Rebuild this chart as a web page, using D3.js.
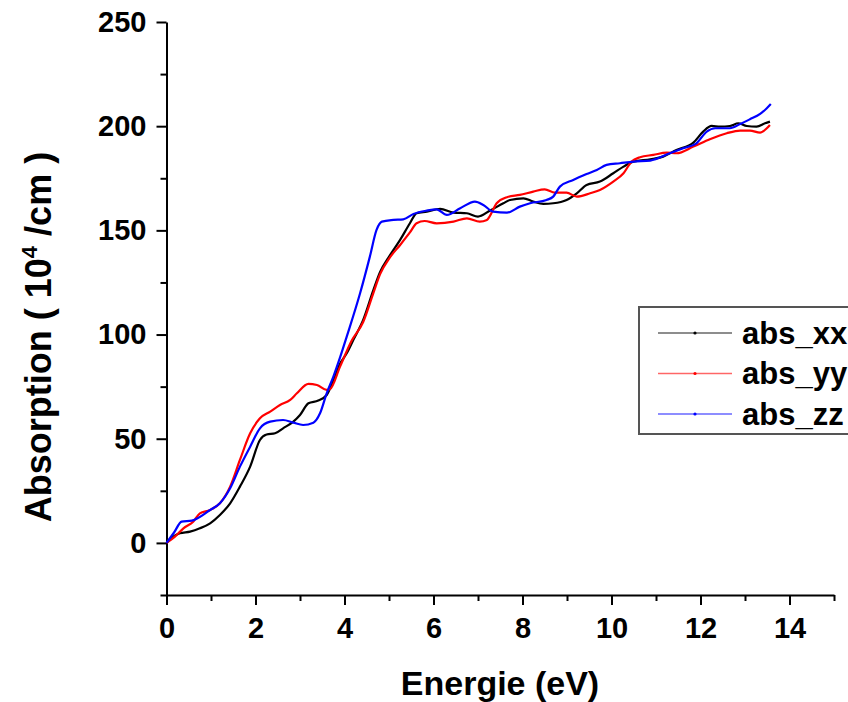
<!DOCTYPE html>
<html>
<head>
<meta charset="utf-8">
<script src="https://cdn.jsdelivr.net/npm/d3@7"></script>
<style>
  html, body { margin: 0; padding: 0; background: #fff; }
  svg { display: block; font-family: "Liberation Sans", Arial, sans-serif; font-weight: bold; }
</style>
</head>
<body>
<svg id="chart" width="848" height="702"></svg>
<script>
// Absorption spectra along the three polarisation directions
const energyXX = [0, 0.15, 0.3, 0.53, 0.75, 0.98, 1.2, 1.43, 1.65, 1.88, 2.1, 2.25, 2.44, 2.62, 2.85, 3.0, 3.19, 3.41, 3.6, 3.75, 3.9, 4.05, 4.2, 4.42, 4.65, 4.8, 5.02, 5.25, 5.47, 5.62, 5.85, 6.15, 6.45, 6.75, 7.0, 7.27, 7.57, 7.72, 8.02, 8.24, 8.47, 8.69, 8.99, 9.22, 9.44, 9.74, 10.04, 10.27, 10.49, 10.87, 11.16, 11.46, 11.84, 12.06, 12.25, 12.44, 12.66, 12.85, 13.04, 13.26, 13.45, 13.56];
const absXX    = [0, 3, 4.6, 5.4, 7, 9.4, 13.4, 19, 27, 36.6, 49.4, 52, 52.6, 55, 58.2, 61.4, 67, 68.3, 71, 78, 86, 91, 97.5, 107, 121.4, 130, 138, 145.4, 153.4, 158.2, 159, 160.3, 158.5, 158.2, 156.6, 159.5, 163, 164.6, 165.4, 163.8, 162.7, 163, 164.6, 167.8, 171.8, 173.4, 177.4, 180.6, 183, 184.1, 185.4, 188.6, 192.1, 197.4, 200.1, 199.8, 200.1, 201.4, 200.1, 199.8, 201.4, 202.2];

const energyYY = [0, 0.19, 0.38, 0.6, 0.75, 0.98, 1.2, 1.43, 1.65, 1.88, 2.1, 2.33, 2.55, 2.78, 2.93, 3.19, 3.38, 3.6, 3.67, 3.9, 4.16, 4.42, 4.65, 4.8, 5.02, 5.25, 5.47, 5.62, 5.8, 6.07, 6.45, 6.75, 7.04, 7.2, 7.42, 7.65, 7.94, 8.24, 8.5, 8.73, 8.99, 9.22, 9.52, 9.74, 10.04, 10.27, 10.45, 10.64, 10.94, 11.24, 11.46, 11.84, 12.21, 12.59, 12.89, 13.11, 13.34, 13.49, 13.56];
const absYY    = [0, 3, 7, 10.2, 14.2, 15.8, 19, 27, 39.8, 52.6, 59.8, 63, 66.2, 68.6, 71.8, 76.3, 75.8, 73.4, 73.7, 84.6, 97, 106, 120, 129, 137, 143, 149, 153.4, 154.5, 153.4, 154.2, 155.8, 154.2, 155, 163, 165.9, 167, 168.6, 169.7, 168.1, 168.1, 166.2, 167.8, 169.4, 173.4, 177.4, 183, 185.1, 186.2, 187.3, 187, 190.2, 193.7, 196.6, 197.9, 197.9, 196.9, 199, 200.6];

const energyZZ = [0, 0.17, 0.34, 0.57, 0.98, 1.2, 1.43, 1.65, 1.88, 2.1, 2.33, 2.62, 2.85, 3.07, 3.3, 3.45, 3.6, 3.75, 3.9, 4.05, 4.35, 4.57, 4.72, 4.84, 5.1, 5.32, 5.55, 5.85, 6.07, 6.3, 6.6, 6.93, 7.12, 7.34, 7.65, 7.94, 8.17, 8.54, 8.69, 8.84, 9.14, 9.44, 9.67, 9.89, 10.19, 10.49, 10.87, 11.31, 11.61, 11.91, 12.14, 12.33, 12.66, 12.89, 13.11, 13.34, 13.49, 13.58];
const absZZ    = [0, 5, 10.2, 10.7, 15.8, 19, 26.2, 36.6, 46.2, 55, 58.2, 59, 57.7, 56.6, 57.7, 62.2, 71.8, 79.8, 89, 99, 119.8, 137.4, 150.2, 154.2, 155, 155.3, 157.9, 159.5, 160.1, 157.4, 160.6, 163.8, 162.2, 159, 158.5, 161.4, 163, 164.6, 166.2, 171, 174.2, 177, 179, 181.4, 182.2, 183, 183.5, 187, 189.4, 191.8, 197.4, 199, 199, 201, 203.3, 205.9, 208.6, 210.6];

const seriesNames  = ["abs_xx", "abs_yy", "abs_zz"];
const seriesColors = ["#000000", "#ff0000", "#0000ff"];

const xMajorTicks = [0, 2, 4, 6, 8, 10, 12, 14];
const xMinorTicks = [1, 3, 5, 7, 9, 11, 13, 15];
const yMajorTicks = [0, 50, 100, 150, 200, 250];
const yMinorTicks = [-25, 25, 75, 125, 175, 225];

const xTitle = "Energie (eV)";

const series = [
  { name: seriesNames[0], color: seriesColors[0], pts: energyXX.map((e, i) => [e, absXX[i]]) },
  { name: seriesNames[1], color: seriesColors[1], pts: energyYY.map((e, i) => [e, absYY[i]]) },
  { name: seriesNames[2], color: seriesColors[2], pts: energyZZ.map((e, i) => [e, absZZ[i]]) }
];

const svg = d3.select("#chart");
const x = d3.scaleLinear().domain([0, 15]).range([166.5, 834]);
const y = d3.scaleLinear().domain([-25, 250]).range([595, 22]);

// Axes: major ticks with labels, minor ticks shorter
function styleAxis(g) {
  g.selectAll("path.domain").attr("stroke", "#000").attr("stroke-width", 2);
  g.selectAll(".tick line").attr("stroke", "#000").attr("stroke-width", 2);
}

const yAxisG = svg.append("g").attr("transform", `translate(${x(0)},0)`);
yAxisG.call(d3.axisLeft(y).tickValues(yMinorTicks).tickSize(6).tickSizeOuter(0).tickFormat(""));
yAxisG.append("g").call(d3.axisLeft(y).tickValues(yMajorTicks).tickSize(10).tickSizeOuter(0).tickPadding(10))
  .call(g => g.select("path.domain").remove());
yAxisG.call(styleAxis);
yAxisG.selectAll(".tick text").attr("font-size", 29).attr("font-family", null).attr("fill", "#000");

const xAxisG = svg.append("g").attr("transform", `translate(0,${y(-25)})`);
xAxisG.call(d3.axisBottom(x).tickValues(xMinorTicks).tickSize(6).tickSizeOuter(0).tickFormat(""));
xAxisG.append("g").call(d3.axisBottom(x).tickValues(xMajorTicks).tickSize(10).tickSizeOuter(0).tickPadding(12))
  .call(g => g.select("path.domain").remove());
xAxisG.call(styleAxis);
xAxisG.selectAll(".tick text").attr("font-size", 29).attr("font-family", null).attr("fill", "#000");

// Axis titles
svg.append("text")
  .attr("x", 500).attr("y", 695)
  .attr("text-anchor", "middle")
  .attr("font-size", 34)
  .text(xTitle);

const yTitle = svg.append("text")
  .attr("transform", "translate(51,337) rotate(-90)")
  .attr("text-anchor", "middle")
  .attr("font-size", 36);
yTitle.append("tspan").text("Absorption ( 10");
yTitle.append("tspan").attr("font-size", 22).attr("dy", -14).text("4");
yTitle.append("tspan").attr("dy", 14).text(" /cm )");

// Spectra
const line = d3.line()
  .x(d => x(d[0]))
  .y(d => y(d[1]))
  .curve(d3.curveMonotoneX);

svg.append("g").selectAll("path")
  .data(series)
  .join("path")
  .attr("d", d => line(d.pts))
  .attr("fill", "none")
  .attr("stroke", d => d.color)
  .attr("stroke-width", 2.2)
  .attr("stroke-linejoin", "round");

// Legend
const legend = svg.append("g");
legend.append("rect")
  .attr("x", 639).attr("y", 307)
  .attr("width", 260).attr("height", 127)
  .attr("fill", "#fff")
  .attr("stroke", "#555")
  .attr("stroke-width", 2);

const rowY = i => 333 + i * 40.5;
const item = legend.selectAll("g.item").data(series).join("g").attr("class", "item");
item.append("line")
  .attr("x1", 658).attr("x2", 732)
  .attr("y1", (d, i) => rowY(i)).attr("y2", (d, i) => rowY(i))
  .attr("stroke", d => d.color)
  .attr("stroke-opacity", 0.6)
  .attr("stroke-width", 1.5);
item.append("circle")
  .attr("cx", 695).attr("cy", (d, i) => rowY(i))
  .attr("r", 1.6)
  .attr("fill", d => d.color);
item.append("text")
  .attr("x", 742).attr("y", (d, i) => rowY(i))
  .attr("dy", "0.35em")
  .attr("font-size", 31)
  .attr("fill", "#000")
  .text(d => d.name);
</script>
</body>
</html>
